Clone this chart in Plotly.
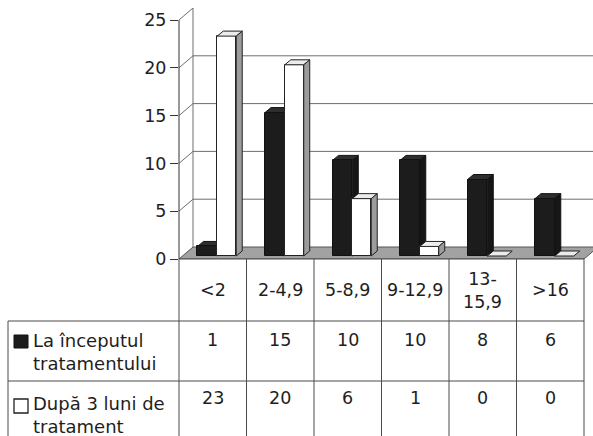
import plotly.graph_objects as go

# ---------------- data ----------------
categories = ["<2", "2-4,9", "5-8,9", "9-12,9", "13-<br>15,9", ">16"]
series_names = ["La începutul<br>tratamentului", "După 3 luni de<br>tratament"]
start_values = [1, 15, 10, 10, 8, 6]
after_values = [23, 20, 6, 1, 0, 0]
y_ticks = [0, 5, 10, 15, 20, 25]

# ---------------- geometry ----------------
W, H = 593, 436
ML, MR, MT, MB = 179, 0, 0, 177
plot_w = W - ML - MR
plot_h = H - MT - MB
PX_PER_CAT = 67.5
PX_PER_UNIT = 9.56
X0 = -0.5
X1 = X0 + plot_w / PX_PER_CAT
Y1 = plot_h / PX_PER_UNIT

DXB = 14 / PX_PER_CAT      # back-wall depth
DYB = 12 / PX_PER_UNIT
DX = 6 / PX_PER_CAT        # bar depth
DY = 5 / PX_PER_UNIT
BASE = 3 / PX_PER_UNIT     # bars stand a little into the floor

B_OFF, B_W = -0.226, 0.293
W_OFF, W_W = 0.067, 0.281

FONT = "DejaVu Sans"
TXT = "#1e1e1e"
FS = 17.5
FS_LEG = 18


def x_paper(x):
    return (x - X0) / (X1 - X0)


def px_x(px):
    return (px - ML) / plot_w


def px_y(py):
    return (MT + plot_h - py) / plot_h


n = len(categories)
xs = list(range(n))

fig = go.Figure()
fig.add_trace(go.Bar(
    x=xs, y=start_values, base=BASE, offset=B_OFF, width=B_W,
    marker=dict(color="#1c1c1c", line=dict(color="#111", width=1)),
    name="start", showlegend=False, hoverinfo="skip"))
fig.add_trace(go.Bar(
    x=xs, y=after_values, base=BASE, offset=W_OFF, width=W_W,
    marker=dict(color="#ffffff", line=dict(color="#222", width=1)),
    name="after", showlegend=False, hoverinfo="skip"))

shapes = []
grid_col = "#6e6e6e"

# floor
shapes.append(dict(type="path", layer="below",
                   path=f"M {X0},0 L {n - 0.5},0 L {n - 0.5 + DXB},{DYB} L {X0 + DXB},{DYB} Z",
                   fillcolor="#a2a2a2", line=dict(color="#555", width=1)))
# back wall gridlines + side wall diagonals
for v in y_ticks[1:]:
    shapes.append(dict(type="line", layer="below", x0=X0, y0=v, x1=X0 + DXB, y1=v + DYB,
                       line=dict(color=grid_col, width=1)))
    if v < y_ticks[-1]:
        shapes.append(dict(type="line", layer="below", x0=X0 + DXB, y0=v + DYB, x1=X1, y1=v + DYB,
                           line=dict(color=grid_col, width=1)))
shapes.append(dict(type="line", layer="below", x0=X0 + DXB, y0=DYB, x1=X0 + DXB,
                   y1=y_ticks[-1] + DYB, line=dict(color=grid_col, width=1)))
# front axis line
shapes.append(dict(type="line", xref="paper", x0=0, x1=0, yref="y", y0=0, y1=y_ticks[-1],
                   line=dict(color="#333", width=1)))

# 3D faces of bars
for i in range(n):
    bv, wv = start_values[i], after_values[i]
    bxl = i + B_OFF
    bxr = bxl + B_W
    btop = BASE + bv
    shapes.append(dict(type="path", layer="below",
                       path=f"M {bxl},{btop} L {bxl + DX},{btop + DY} L {bxr + DX},{btop + DY} L {bxr},{btop} Z",
                       fillcolor="#2e2e2e", line=dict(color="#111", width=1)))
    shapes.append(dict(type="path", layer="below",
                       path=f"M {bxr},{BASE} L {bxr + DX},{BASE + DY} L {bxr + DX},{btop + DY} L {bxr},{btop} Z",
                       fillcolor="#161616", line=dict(color="#111", width=1)))
    wxl = i + W_OFF
    wxr = wxl + W_W
    wtop = BASE + wv
    shapes.append(dict(type="path", layer="above",
                       path=f"M {wxl},{wtop} L {wxl + DX},{wtop + DY} L {wxr + DX},{wtop + DY} L {wxr},{wtop} Z",
                       fillcolor="#ececec", line=dict(color="#222", width=1)))
    if wv > 0:
        shapes.append(dict(type="path", layer="above",
                           path=f"M {wxr},{BASE} L {wxr + DX},{BASE + DY} L {wxr + DX},{wtop + DY} L {wxr},{wtop} Z",
                           fillcolor="#9c9c9c", line=dict(color="#222", width=1)))

# data table grid
tcol = "#4a4a4a"
row_lines = [259, 321, 381]
left_px = 8
right_x = x_paper(n - 0.5)
shapes.append(dict(type="line", xref="paper", yref="paper", x0=0, x1=right_x,
                   y0=px_y(row_lines[0]), y1=px_y(row_lines[0]), line=dict(color=tcol, width=1)))
for r in row_lines[1:]:
    shapes.append(dict(type="line", xref="paper", yref="paper", x0=px_x(left_px), x1=right_x,
                       y0=px_y(r), y1=px_y(r), line=dict(color=tcol, width=1)))
for k in range(n + 1):
    xp = x_paper(k - 0.5)
    shapes.append(dict(type="line", xref="paper", yref="paper", x0=xp, x1=xp,
                       y0=px_y(row_lines[0]), y1=px_y(H + 2), line=dict(color=tcol, width=1)))
shapes.append(dict(type="line", xref="paper", yref="paper", x0=px_x(left_px), x1=px_x(left_px),
                   y0=px_y(row_lines[1]), y1=px_y(H + 2), line=dict(color=tcol, width=1)))

# legend keys
shapes.append(dict(type="rect", xref="paper", yref="paper", x0=px_x(14), x1=px_x(28),
                   y0=px_y(348), y1=px_y(335), fillcolor="#1c1c1c", line=dict(color="#111", width=1)))
shapes.append(dict(type="rect", xref="paper", yref="paper", x0=px_x(14), x1=px_x(28),
                   y0=px_y(413), y1=px_y(399), fillcolor="#ffffff", line=dict(color="#222", width=1.3)))

annotations = []
for i, c in enumerate(categories):
    annotations.append(dict(x=i, xref="x", y=px_y(290), yref="paper", text=c, showarrow=False,
                            yanchor="middle", xanchor="center", font=dict(family=FONT, size=FS, color=TXT)))
    annotations.append(dict(x=i, xref="x", y=px_y(340), yref="paper", text=str(start_values[i]),
                            showarrow=False, yanchor="middle", font=dict(family=FONT, size=FS, color=TXT)))
    annotations.append(dict(x=i, xref="x", y=px_y(398), yref="paper", text=str(after_values[i]),
                            showarrow=False, yanchor="middle", font=dict(family=FONT, size=FS, color=TXT)))
annotations.append(dict(x=px_x(31), xref="paper", y=px_y(352), yref="paper", text=series_names[0],
                        showarrow=False, xanchor="left", yanchor="middle", align="left",
                        font=dict(family=FONT, size=FS_LEG, color=TXT)))
annotations.append(dict(x=px_x(31), xref="paper", y=px_y(415), yref="paper", text=series_names[1],
                        showarrow=False, xanchor="left", yanchor="middle", align="left",
                        font=dict(family=FONT, size=FS_LEG, color=TXT)))

fig.update_layout(
    width=W, height=H,
    margin=dict(l=ML, r=MR, t=MT, b=MB, pad=0),
    paper_bgcolor="white", plot_bgcolor="white",
    barmode="overlay", bargap=0,
    shapes=shapes, annotations=annotations,
    xaxis=dict(range=[X0, X1], showticklabels=False, showgrid=False, zeroline=False,
               showline=False, ticks="", fixedrange=True),
    yaxis=dict(range=[0, Y1], tickvals=y_ticks, ticks="outside", ticklen=8, tickcolor="#333",
               showgrid=False, zeroline=False, showline=False,
               tickfont=dict(family=FONT, size=FS, color=TXT), fixedrange=True),
    showlegend=False,
)

fig.write_html("out.html", config={"displayModeBar": False},
               post_script="document.body.style.margin='0px';document.body.style.overflow='hidden';")
